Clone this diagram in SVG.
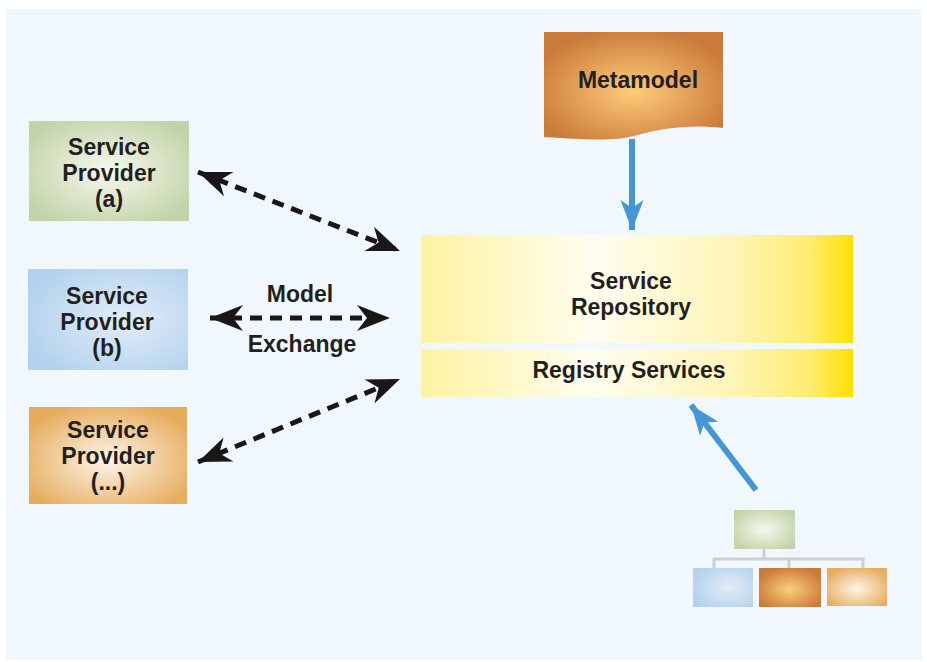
<svg xmlns="http://www.w3.org/2000/svg" width="927" height="662" viewBox="0 0 927 662">
<defs>
<style>
text{font-family:"Liberation Sans",Arial,sans-serif;font-weight:bold;font-size:23px;fill:#231f20;text-anchor:middle}
.dash{stroke:#1a1718;stroke-width:5;stroke-dasharray:12 8;fill:none}
.blue{stroke:#4596d4;stroke-width:6;fill:none}
.org{stroke:#cfcfcf;stroke-width:3;fill:none}
</style>
<radialGradient id="gGreen" cx="50%" cy="50%" r="60%">
<stop offset="0" stop-color="#f6f8ef"/><stop offset="1" stop-color="#c3d3a8"/>
</radialGradient>
<radialGradient id="gBlue" cx="60%" cy="50%" r="65%">
<stop offset="0" stop-color="#e2ecf7"/><stop offset="1" stop-color="#b3d2ee"/>
</radialGradient>
<radialGradient id="gOrangeL" cx="50%" cy="55%" r="60%">
<stop offset="0" stop-color="#fdf5ea"/><stop offset="1" stop-color="#e6ad5e"/>
</radialGradient>
<radialGradient id="gOrange" cx="50%" cy="55%" r="58%">
<stop offset="0" stop-color="#fdcd7b"/><stop offset="1" stop-color="#cb7b39"/>
</radialGradient>
<linearGradient id="gYellow" x1="0" y1="0" x2="1" y2="0">
<stop offset="0" stop-color="#fff3a0"/><stop offset="0.4" stop-color="#fffdf0"/><stop offset="0.72" stop-color="#fff5b8"/><stop offset="0.9" stop-color="#ffec70"/><stop offset="1" stop-color="#ffe000"/>
</linearGradient>
<marker id="ah" viewBox="-34 -14 36 28" refX="0" refY="0" markerWidth="36" markerHeight="28" markerUnits="userSpaceOnUse" orient="auto-start-reverse">
<path d="M0,0 L-33,-13 L-23,0 L-33,13 Z" fill="#1a1718"/>
</marker>
<marker id="bh" viewBox="-32 -12 34 24" refX="0" refY="0" markerWidth="34" markerHeight="24" markerUnits="userSpaceOnUse" orient="auto">
<path d="M0,0 L-30,-11.5 L-22,0 L-30,11.5 Z" fill="#4596d4"/>
</marker>
</defs>
<rect x="6" y="9" width="916" height="651" fill="#f0f7fd"/>

<g id="sp-a">
<rect x="29" y="121" width="160" height="100" fill="url(#gGreen)"/>
<text x="109" y="155">Service</text><text x="109" y="181">Provider</text><text x="109" y="207">(a)</text>
</g>
<g id="sp-b">
<rect x="28" y="269" width="160" height="101" fill="url(#gBlue)"/>
<text x="107" y="304">Service</text><text x="107" y="330">Provider</text><text x="107" y="356">(b)</text>
</g>
<g id="sp-c">
<rect x="29" y="407" width="158" height="97" fill="url(#gOrangeL)"/>
<text x="108" y="438">Service</text><text x="108" y="464">Provider</text><text x="108" y="490">(...)</text>
</g>
<g id="metamodel">
<path d="M544,32 L723,32 L723,128 C690,124 662,128 634,136 C614,141 590,140 544,137 Z" fill="url(#gOrange)"/>
<text x="638" y="88">Metamodel</text>
</g>
<g id="repository">
<rect x="421" y="235" width="432" height="108" fill="url(#gYellow)"/>
<text x="631" y="289">Service</text><text x="631" y="315">Repository</text>
</g>
<g id="registry">
<rect x="421" y="349" width="432" height="48" fill="url(#gYellow)"/>
<text x="629" y="378">Registry Services</text>
</g>
<g id="orgchart">
<path class="org" d="M764,549 V559 M714,568 V559 H863 V568 M789,559 V568"/>
<rect x="734" y="510" width="61" height="39" fill="url(#gGreen)"/>
<rect x="693" y="568" width="60" height="39" fill="url(#gBlue)"/>
<rect x="759" y="568" width="62" height="39" fill="url(#gOrange)"/>
<rect x="827" y="568" width="60" height="38" fill="url(#gOrangeL)"/>
</g>

<g id="connectors">
<line class="dash" x1="198" y1="172" x2="400" y2="251" marker-start="url(#ah)" marker-end="url(#ah)"/>
<line class="dash" x1="210" y1="318" x2="390" y2="318" marker-start="url(#ah)" marker-end="url(#ah)"/>
<line class="dash" x1="198" y1="462" x2="400" y2="379" marker-start="url(#ah)" marker-end="url(#ah)"/>
<line class="blue" x1="632" y1="139" x2="632" y2="230" marker-end="url(#bh)"/>
<line class="blue" x1="756" y1="490" x2="691" y2="405" marker-end="url(#bh)"/>
</g>
<g id="labels">
<text x="300" y="302">Model</text>
<text x="302" y="352">Exchange</text>
</g>
</svg>
